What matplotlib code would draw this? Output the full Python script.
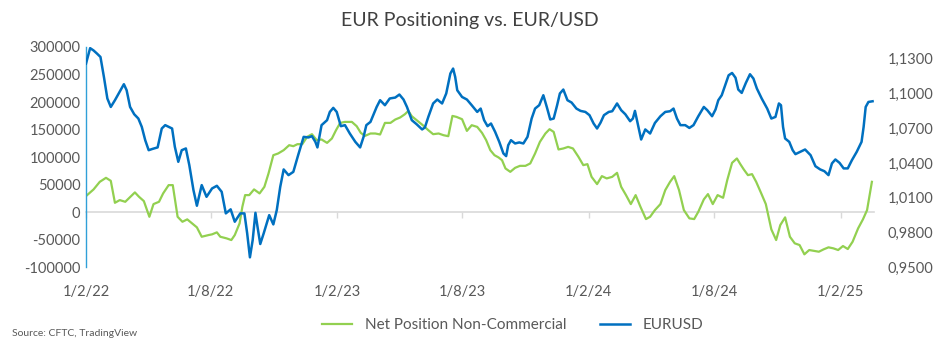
import matplotlib
matplotlib.use("Agg")
import matplotlib.pyplot as plt
import matplotlib.dates as mdates
from matplotlib.ticker import FuncFormatter, MultipleLocator
import pandas as pd

plt.rcParams["font.family"] = ["Lato", "DejaVu Sans"]

start = pd.Timestamp("2022-02-01")

# EURUSD (days since 1 Feb 2022, rate)
eur_days = [
    0, 6, 11, 16, 21, 26, 31, 36, 42, 48,
    55, 59, 64, 70, 76, 81, 86, 91, 97, 104,
    110, 115, 125, 129, 134, 139, 145, 150, 156, 161,
    168, 175, 183, 190, 197, 203, 210, 216, 224, 230,
    234, 238, 242, 246, 249, 253, 258, 266, 272, 277,
    282, 287, 294, 301, 308, 316, 323, 328, 333, 336,
    342, 350, 354, 359, 364, 370, 376, 383, 391, 398,
    403, 407, 413, 417, 422, 427, 434, 441, 449, 455,
    461, 466, 473, 480, 488, 492, 497, 504, 510, 517,
    523, 529, 533, 536, 539, 546, 553, 560, 568, 573,
    578, 583, 588, 594, 600, 606, 610, 613, 617, 623,
    629, 635, 641, 647, 652, 658, 664, 669, 674, 679,
    684, 688, 693, 699, 705, 712, 718, 725, 731, 737,
    742, 747, 752, 759, 764, 771, 777, 783, 790, 794,
    797, 801, 806, 812, 819, 826, 834, 841, 848, 853,
    858, 863, 870, 876, 882, 889, 897, 902, 909, 914,
    918, 923, 928, 933, 938, 943, 947, 952, 958, 964,
    969, 974, 981, 989, 995, 1001, 1006, 1009, 1012, 1015,
    1021, 1026, 1030, 1037, 1044, 1052, 1059, 1066, 1072, 1078,
    1083, 1088, 1094, 1100, 1106, 1112, 1119, 1126, 1129, 1132,
    1136, 1142,
]
eur_usd = [
    1.1257, 1.1390, 1.1370, 1.1343, 1.1314, 1.1142, 1.0956, 1.0883, 1.0941, 1.1004,
    1.1079, 1.1027, 1.0883, 1.0820, 1.0783, 1.0711, 1.0596, 1.0510, 1.0522, 1.0534,
    1.0697, 1.0726, 1.0697, 1.0539, 1.0410, 1.0510, 1.0525, 1.0381, 1.0166, 1.0031,
    1.0209, 1.0108, 1.0180, 1.0203, 1.0151, 0.9965, 1.0000, 0.9893, 0.9965, 0.9965,
    0.9793, 0.9586, 0.9735, 0.9970, 0.9850, 0.9701, 0.9793, 0.9950, 0.9870, 0.9994,
    1.0194, 1.0344, 1.0295, 1.0323, 1.0467, 1.0625, 1.0620, 1.0631, 1.0582, 1.0534,
    1.0726, 1.0769, 1.0840, 1.0875, 1.0840, 1.0717, 1.0726, 1.0654, 1.0582, 1.0534,
    1.0625, 1.0726, 1.0754, 1.0812, 1.0883, 1.0941, 1.0898, 1.0956, 1.0964, 1.0990,
    1.0947, 1.0883, 1.0769, 1.0734, 1.0689, 1.0706, 1.0797, 1.0913, 1.0947, 1.0913,
    1.0999, 1.1171, 1.1214, 1.1142, 1.1027, 1.0969, 1.0947, 1.0898, 1.0840, 1.0869,
    1.0769, 1.0717, 1.0740, 1.0668, 1.0582, 1.0482, 1.0459, 1.0553, 1.0596, 1.0568,
    1.0577, 1.0568, 1.0625, 1.0783, 1.0869, 1.0898, 1.0984, 1.0883, 1.0775, 1.0783,
    1.0898, 1.0999, 1.1033, 1.0941, 1.0921, 1.0869, 1.0849, 1.0840, 1.0812, 1.0740,
    1.0697, 1.0747, 1.0812, 1.0840, 1.0846, 1.0913, 1.0855, 1.0820, 1.0760, 1.0783,
    1.0849, 1.0740, 1.0602, 1.0689, 1.0654, 1.0745, 1.0803, 1.0840, 1.0846, 1.0869,
    1.0783, 1.0726, 1.0726, 1.0702, 1.0726, 1.0803, 1.0883, 1.0855, 1.0803, 1.0861,
    1.0941, 1.0984, 1.1070, 1.1156, 1.1176, 1.1135, 1.1033, 1.1004, 1.1090, 1.1165,
    1.1128, 1.1042, 1.0956, 1.0869, 1.0783, 1.0797, 1.0913, 1.0898, 1.0711, 1.0611,
    1.0582, 1.0510, 1.0476, 1.0496, 1.0516, 1.0467, 1.0372, 1.0344, 1.0329, 1.0295,
    1.0396, 1.0430, 1.0401, 1.0353, 1.0353, 1.0424, 1.0496, 1.0582, 1.0711, 1.0883,
    1.0926, 1.0932,
]

# CFTC net non-commercial position (days since 1 Feb 2022, contracts)
pos_days = [
    0, 11, 20, 29, 36, 42, 49, 57, 63, 71,
    77, 84, 92, 98, 106, 112, 120, 126, 133, 140,
    147, 154, 161, 168, 178, 183, 190, 195, 204, 211,
    216, 223, 227, 231, 237, 244, 252, 259, 265, 272,
    279, 287, 295, 301, 307, 314, 321, 328, 335, 342,
    350, 357, 363, 369, 376, 386, 393, 399, 405, 413,
    420, 427, 434, 442, 449, 456, 463, 468, 473, 480,
    489, 497, 504, 512, 519, 526, 532, 538, 546, 553,
    560, 568, 575, 581, 587, 593, 599, 604, 609, 616,
    623, 630, 638, 645, 652, 659, 667, 673, 679, 686,
    693, 700, 707, 715, 722, 728, 734, 742, 749, 756,
    764, 771, 777, 784, 791, 798, 805, 813, 819, 826,
    834, 841, 848, 854, 861, 868, 876, 883, 889, 897,
    903, 910, 917, 925, 931, 938, 945, 950, 955, 961,
    967, 973, 980, 987, 991, 995, 1002, 1008, 1015, 1022,
    1029, 1036, 1043, 1050, 1056, 1064, 1071, 1078, 1085, 1092,
    1099, 1106, 1113, 1121, 1128, 1134, 1141,
]
net_position = [
    29280, 41430, 55200, 62460, 57020, 17130, 22030, 18950, 26200, 35990,
    28010, 20210, -8250, 14780, 18950, 34180, 49220, 49220, -8250, -17310,
    -12960, -20210, -27470, -44510, -41430, -40160, -36530, -44510, -47410, -50490,
    -41430, -20210, 9880, 31090, 31090, 41430, 34180, 46140, 70440, 103610,
    106700, 112680, 121740, 119930, 123560, 123560, 136790, 141690, 130810, 132080,
    125910, 133890, 148940, 162170, 163990, 163990, 156190, 144040, 138600, 142950,
    142950, 141140, 162170, 162170, 168340, 171960, 177950, 183930, 174320, 167070,
    158000, 148940, 141690, 142950, 139870, 138060, 174860, 173050, 168880, 147670,
    158000, 154920, 144040, 130810, 112680, 103610, 99440, 94550, 79500, 73340,
    80590, 84210, 84210, 88570, 106700, 127730, 142950, 150750, 145860, 113950,
    115760, 118660, 115760, 100530, 85480, 87300, 64270, 51040, 65540, 61370,
    64270, 71520, 46140, 31090, 14780, 31090, 9880, -12420, -8250, 3900,
    14780, 40160, 55200, 65540, 40160, 3900, -11150, -12420, 820, 23300,
    32910, 14780, 31090, 26200, 58290, 89650, 97630, 87300, 77690, 67350,
    69170, 55200, 35260, 14780, -8250, -31090, -50490, -23300, -9340, -44510,
    -56470, -59560, -76420, -68620, -69890, -71700, -67350, -63730, -65540, -68620,
    -61370, -66810, -53570, -29280, -12960, 3900, 55200,
]

tick_dates = ["2022-02-01", "2022-08-01", "2023-02-01", "2023-08-01",
              "2024-02-01", "2024-08-01", "2025-02-01"]
left_range = (-100000, 300000)
left_step = 50000
right_range = (0.95, 1.14)
right_ticks = [0.95, 0.98, 1.01, 1.04, 1.07, 1.10, 1.13]

eur_dates = start + pd.to_timedelta(eur_days, unit="D")
pos_dates = start + pd.to_timedelta(pos_days, unit="D")

green = "#92d050"
blue = "#0070c0"
text_col = "#595959"

fig = plt.figure(figsize=(9.44, 3.59), dpi=100)
ax = fig.add_axes([0.0911, 0.2554, 0.8347, 0.6137])
ax2 = ax.twinx()

l1, = ax.plot(pos_dates, net_position, color=green, lw=1.6,
              label="Net Position Non-Commercial")
l2, = ax2.plot(eur_dates, eur_usd, color=blue, lw=1.8, label="EURUSD")

ax.set_xlim(start, start + pd.Timedelta(days=1144))
ax.set_ylim(*left_range)
ax.yaxis.set_major_locator(MultipleLocator(left_step))
ax.yaxis.set_major_formatter(FuncFormatter(lambda v, p: "%d" % v))
ax2.set_ylim(*right_range)
ax2.set_yticks(right_ticks)
ax2.yaxis.set_major_formatter(
    FuncFormatter(lambda v, p: ("%.4f" % v).replace(".", ",")))

ticks = [pd.Timestamp(t) for t in tick_dates]
ax.set_xticks(ticks)
ax.set_xticklabels([f"{t.day}/{t.month}/{t.strftime('%y')}" for t in ticks])

for a in (ax, ax2):
    for s in a.spines.values():
        s.set_visible(False)
ax.spines["left"].set_visible(True)
ax.spines["left"].set_color("#30a0d8")
ax.spines["left"].set_linewidth(1.0)

ax.tick_params(axis="x", length=0, pad=13, labelsize=10.5, labelcolor=text_col)
ax.tick_params(axis="y", length=0, pad=4, labelsize=10.5, labelcolor=text_col)
ax2.tick_params(axis="y", length=0, pad=10, labelsize=10.5, labelcolor=text_col)

# zero line with the date tick marks, like the Excel horizontal axis
zero_frac = (0 - left_range[0]) / (left_range[1] - left_range[0])
sec = ax.secondary_xaxis(zero_frac)
sec.set_xticks(mdates.date2num(ticks))
sec.tick_params(axis="x", length=4, width=1, color="#d9d9d9", labelbottom=False)
sec.spines["bottom"].set_color("#d9d9d9")
sec.spines["bottom"].set_linewidth(1.2)
ax.set_zorder(1)
ax2.set_zorder(2)

fig.text(0.498, 0.944, "EUR Positioning vs. EUR/USD", ha="center", va="center",
         fontsize=14, color="#404040")
fig.legend(handles=[l1, l2], loc="center", bbox_to_anchor=(0.543, 0.095), ncol=2,
           frameon=False, fontsize=11, handlelength=2.0, handletextpad=0.8,
           columnspacing=2.2, labelcolor=text_col)
fig.text(0.013, 0.072, "Source: CFTC, TradingView", ha="left", va="center",
         fontsize=7.5, color=text_col)

fig.savefig("out.png", dpi=100)
